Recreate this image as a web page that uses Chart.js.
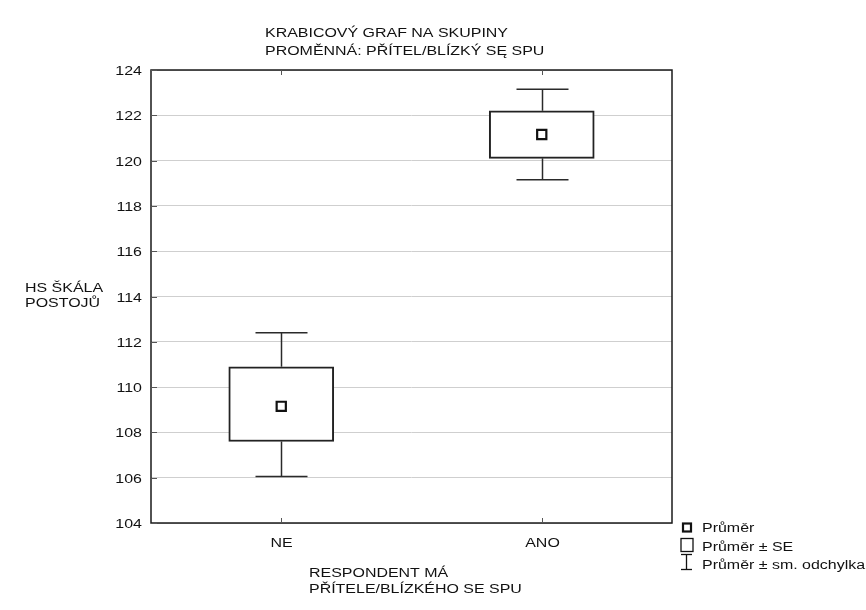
<!DOCTYPE html>
<html>
<head>
<meta charset="utf-8">
<script src="https://cdn.jsdelivr.net/npm/chart.js@4"></script>
<style>
    html, body { margin: 0; padding: 0; background: #fff; }
    #boxChart { display: block; }
</style>
</head>
<body>
<canvas id="boxChart" width="866" height="610"></canvas>
<script>
var categories = ['NE', 'ANO'];
var means = [109.15, 121.15];
var seLow = [107.6, 120.1];
var seHigh = [110.9, 122.2];
var sdLow = [106.05, 119.15];
var sdHigh = [112.4, 123.15];
var yTicks = { min: 104, max: 124, step: 2 };

var titleLines = ['KRABICOVÝ GRAF NA SKUPINY', 'PROMĚNNÁ: PŘÍTEL/BLÍZKÝ SĘ SPU'];
var yTitleLines = ['HS ŠKÁLA', 'POSTOJŮ'];
var xTitleLines = ['RESPONDENT MÁ', 'PŘÍTELE/BLÍZKÉHO SE SPU'];
var legendLabels = ['Průměr', 'Průměr ± SE', 'Průměr ± sm. odchylka'];

(function () {
    var canvas = document.getElementById('boxChart');
    var STRETCH = 1.33;
    var FONT = '12px "Liberation Sans", Arial, sans-serif';

    function text(ctx, str, x, y, align) {
        ctx.save();
        ctx.translate(x, y);
        ctx.scale(STRETCH, 1);
        ctx.font = FONT;
        ctx.fillStyle = '#111';
        ctx.textAlign = align || 'left';
        ctx.textBaseline = 'alphabetic';
        ctx.fillText(str, 0, 0);
        ctx.restore();
    }

    function line(ctx, x1, y1, x2, y2) {
        ctx.beginPath();
        ctx.moveTo(x1, y1);
        ctx.lineTo(x2, y2);
        ctx.stroke();
    }

    // whiskers under the boxes
    var whiskerPlugin = {
        id: 'whiskers',
        beforeDatasetsDraw: function (chart) {
            var ctx = chart.ctx, x = chart.scales.x, y = chart.scales.y;
            ctx.save();
            ctx.strokeStyle = '#2a2a2a';
            ctx.lineWidth = 1.5;
            categories.forEach(function (c, i) {
                var px = Math.round(x.getPixelForValue(i)) + 0.5;
                var top = y.getPixelForValue(sdHigh[i]);
                var bot = y.getPixelForValue(sdLow[i]);
                line(ctx, px, top, px, y.getPixelForValue(seHigh[i]));
                line(ctx, px, bot, px, y.getPixelForValue(seLow[i]));
                line(ctx, px - 26, top, px + 26, top);
                line(ctx, px - 26, bot, px + 26, bot);
            });
            ctx.restore();
        },
        afterDraw: function (chart) {
            var ctx = chart.ctx, x = chart.scales.x, y = chart.scales.y, a = chart.chartArea;
            ctx.save();
            // frame and inner ticks
            ctx.strokeStyle = '#1a1a1a';
            ctx.lineWidth = 1.5;
            ctx.strokeRect(a.left, a.top, a.right - a.left, a.bottom - a.top);
            ctx.lineWidth = 1;
            ctx.strokeStyle = '#555';
            y.ticks.forEach(function (t) {
                var py = Math.round(y.getPixelForValue(t.value)) + 0.5;
                line(ctx, a.left, py, a.left + 6, py);
                text(ctx, String(t.value), 142, py + 4, 'right');
            });
            categories.forEach(function (c, i) {
                var px = Math.round(x.getPixelForValue(i)) + 0.5;
                line(ctx, px, a.bottom, px, a.bottom - 5);
                line(ctx, px, a.top, px, a.top + 5);
                text(ctx, c, px, 547, 'center');
            });

            text(ctx, titleLines[0], 265, 37);
            text(ctx, titleLines[1], 265, 55);
            text(ctx, yTitleLines[0], 25, 292);
            text(ctx, yTitleLines[1], 25, 307);
            text(ctx, xTitleLines[0], 309, 577);
            text(ctx, xTitleLines[1], 309, 593);

            // legend
            ctx.strokeStyle = '#111';
            ctx.fillStyle = '#fff';
            ctx.lineWidth = 2.2;
            ctx.strokeRect(683, 523.5, 8, 8);
            ctx.lineWidth = 1.3;
            ctx.strokeRect(681, 538.5, 12, 13);
            line(ctx, 681, 554.5, 692, 554.5);
            line(ctx, 686.5, 554.5, 686.5, 569.5);
            line(ctx, 681, 569.5, 692, 569.5);
            text(ctx, legendLabels[0], 702, 532);
            text(ctx, legendLabels[1], 702, 551);
            text(ctx, legendLabels[2], 702, 569);
            ctx.restore();
        }
    };

    var boxData = seLow.map(function (v, i) { return [v, seHigh[i]]; });

    new Chart(canvas.getContext('2d'), {
        type: 'bar',
        data: {
            labels: categories,
            datasets: [
                {
                    label: 'Průměr',
                    type: 'line',
                    data: means,
                    showLine: false,
                    pointStyle: 'rect',
                    pointRadius: 6.5,
                    pointBorderWidth: 2.2,
                    pointBackgroundColor: '#fff',
                    pointBorderColor: '#111',
                    order: 0
                },
                {
                    label: 'Průměr ± SE',
                    data: boxData,
                    backgroundColor: '#fff',
                    borderColor: '#222',
                    borderWidth: 2,
                    borderSkipped: false,
                    barThickness: 105,
                    order: 1
                }
            ]
        },
        options: {
            responsive: false,
            animation: false,
            devicePixelRatio: 1,
            layout: { padding: { left: 151, right: 194, top: 70, bottom: 87 } },
            plugins: {
                legend: { display: false },
                tooltip: { enabled: false }
            },
            scales: {
                x: {
                    offset: true,
                    grid: { display: false, drawTicks: false },
                    border: { display: false },
                    ticks: { display: false }
                },
                y: {
                    min: yTicks.min,
                    max: yTicks.max,
                    grid: { color: '#cfcfcf', lineWidth: 1, drawTicks: false },
                    border: { display: false },
                    ticks: { display: false, stepSize: yTicks.step }
                }
            }
        },
        plugins: [whiskerPlugin]
    });
})();
</script>
</body>
</html>
